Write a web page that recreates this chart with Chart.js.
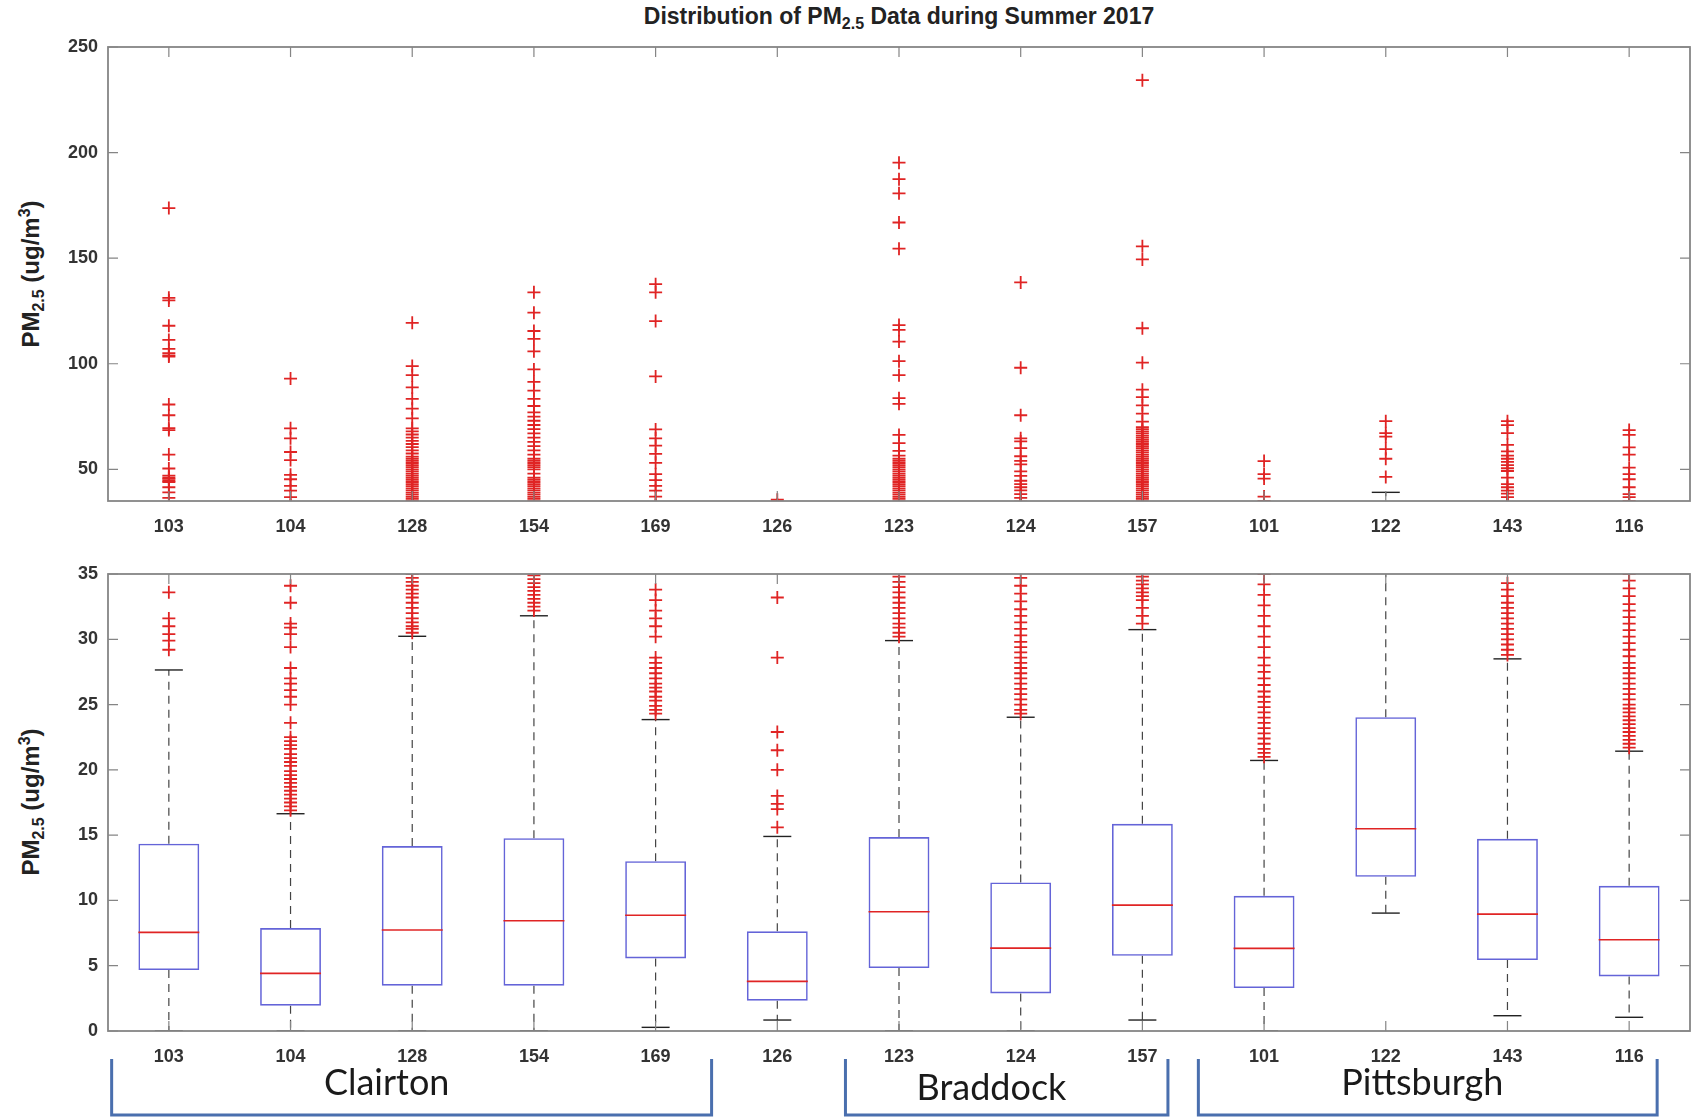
<!DOCTYPE html>
<html>
<head>
<meta charset="utf-8">
<script src="https://cdn.jsdelivr.net/npm/chart.js@4.4.0/dist/chart.umd.min.js"></script>
<style>
  body { margin: 0; background: #fff; width: 1698px; height: 1118px; position: relative; overflow: hidden;
         font-family: "Liberation Sans", Arial, sans-serif; }
  canvas { position: absolute; left: 0; }
  #topChart { top: 0; }
  #bottomChart { top: 545px; }
  .title { position: absolute; left: 899px; top: 18px; transform: translate(-50%, -50%);
           font-weight: bold; font-size: 23px; color: #222; white-space: nowrap; }
  .ylab { position: absolute; left: 32px; transform: translate(-50%, -50%) rotate(-90deg);
          font-weight: bold; font-size: 24px; color: #222; white-space: nowrap; }
  sub, sup { font-size: 16px; }
</style>
</head>
<body>
<div class="title">Distribution of PM<sub>2.5</sub> Data during Summer 2017</div>
<div class="ylab" style="top:274px">PM<sub>2.5</sub> (ug/m<sup>3</sup>)</div>
<div class="ylab" style="top:802px">PM<sub>2.5</sub> (ug/m<sup>3</sup>)</div>
<canvas id="topChart" width="1698" height="545"></canvas>
<canvas id="bottomChart" width="1698" height="573"></canvas>
<script>
// monitor ids, left to right
const stations = ["103", "104", "128", "154", "169", "126", "123", "124", "157", "101", "122", "143", "116"];

// box statistics (ug/m3)
const q1 = [4.67, 1.94, 3.47, 3.47, 5.56, 2.32, 4.82, 2.88, 5.76, 3.29, 11.81, 5.43, 4.18];
const median = [7.55, 4.41, 7.73, 8.44, 8.87, 3.8, 9.13, 6.35, 9.64, 6.33, 15.49, 8.95, 6.99];
const q3 = [14.34, 7.88, 14.16, 14.77, 13.0, 7.63, 14.85, 11.38, 15.87, 10.35, 24.03, 14.72, 11.12];
const whiskerLow = [0, 0, 0, 0, 0.28, 0.84, 0, 0, 0.84, 0, 9.03, 1.17, 1.05];
const whiskerHigh = [27.65, 16.64, 30.23, 31.8, 23.85, 14.9, 29.9, 24.03, 30.74, 20.72, 39.1, 28.5, 21.43];

// outliers per monitor
const out103 = [29.2, 29.9, 30.4, 31.0, 31.6, 33.6, 36.5, 39.1, 41.5, 44.0, 44.6, 45.5, 46.1, 47.0, 50.4, 57.0,
  68.6, 69.5, 75.6, 80.7, 103.4, 104.0, 105.0, 107.0, 111.3, 118.0, 130.0, 131.2, 173.7];
const out104 = [16.9, 17.2, 17.5, 17.8, 18.1, 18.4, 18.7, 19.0, 19.3, 19.6, 19.9, 20.3, 20.6, 20.9, 21.2, 21.6,
  21.9, 22.2, 22.5, 23.6, 25.0, 25.6, 26.1, 26.6, 27.0, 27.8, 29.4, 30.4, 30.9, 31.2, 32.8, 34.1,
  36.8, 39.9, 42.2, 45.3, 47.4, 54.4, 58.2, 64.7, 69.4, 93.0];
const out128 = [30.5, 30.8, 31.0, 31.3, 31.6, 32.0, 32.4, 32.8, 33.2, 33.5, 33.8, 34.1, 34.4, 34.7, 35.0,
  36, 37, 38, 39, 40, 41, 42, 43, 44, 45, 46, 47, 48, 49, 50, 51, 52, 53, 54, 55, 56, 57.5, 59, 60.5, 62,
  63.5, 65, 66.5, 68, 69.4, 74.1, 78.7, 83.4, 88.8, 94.6, 98.9, 119.4];
const out154 = [32.2, 32.5, 32.8, 33.1, 33.4, 33.7, 34.0, 34.3, 34.6, 34.9, 36, 37, 38, 39, 40, 41, 42, 43,
  44, 45, 46, 48, 50, 51, 52, 53, 54, 55, 57, 59, 61, 63, 65, 67, 69, 71, 73, 75, 77, 80, 83.4, 87.3, 91.4,
  97.3, 105.9, 111.8, 115.5, 124.2, 133.8];
const out169 = [24.3, 24.6, 24.9, 25.3, 25.6, 26.0, 26.3, 26.6, 27.0, 27.4, 27.8, 28.2, 28.6, 30.2, 31.0,
  31.6, 32.2, 33.0, 33.8, 37.1, 39.9, 42.2, 44.9, 47.7, 53.1, 57.3, 61.2, 64.7, 68.9, 94.0, 120.2, 133.8, 137.7];
const out126 = [15.6, 17.0, 17.4, 18.0, 20.0, 21.5, 22.9, 28.6, 33.2, 35.6];
const out123 = [30.2, 30.5, 30.9, 31.2, 31.6, 32.0, 32.4, 32.8, 33.2, 33.6, 34.0, 34.4, 34.8, 36, 37, 38, 39,
  40, 41, 42, 43, 44, 45, 46, 47, 48, 49, 50, 51, 52, 53, 54, 55, 56.5, 58.7, 62.4, 66.3, 81.0, 83.7, 94.6,
  101.2, 110.5, 116.0, 118.3, 154.5, 166.9, 180.7, 187.4, 195.2];
const out124 = [24.3, 24.6, 25.0, 25.4, 25.8, 26.2, 26.6, 27.0, 27.4, 27.8, 28.2, 28.6, 29.0, 29.4, 29.8, 30.3,
  30.8, 31.3, 31.8, 32.3, 32.9, 33.5, 34.1, 34.7, 36.5, 38.3, 40.0, 41.5, 43.0, 44.6, 46.9, 49.0, 52.3, 54.0,
  56.2, 60.0, 63.2, 64.7, 75.6, 98.1, 138.5];
const out157 = [31.2, 31.8, 32.4, 33.0, 33.3, 33.6, 33.9, 34.2, 34.5, 34.8, 36, 37, 38, 39, 40, 41, 42, 43, 44,
  45, 46, 47, 48, 49, 50, 51, 52, 53, 54, 55, 56, 57, 58, 59, 60, 61, 62, 63, 64, 65, 66, 67, 68, 69, 70,
  72.6, 76.4, 80.3, 84.2, 87.7, 100.5, 116.8, 149.4, 155.6, 234.3];
const out101 = [21.0, 21.3, 21.6, 22.0, 22.4, 22.8, 23.2, 23.6, 24.0, 24.4, 24.8, 25.2, 25.6, 26.0, 26.5, 27.0,
  27.5, 28.0, 28.6, 29.4, 30.2, 31.0, 31.8, 32.6, 33.4, 34.2, 35.0, 37.1, 45.6, 47.7, 53.9];
const out122 = [46.4, 55.0, 59.6, 65.5, 67.1, 72.8];
const out143 = [28.8, 29.2, 29.6, 30.0, 30.4, 30.8, 31.2, 31.6, 32.0, 32.4, 32.8, 33.3, 33.8, 34.3, 36.8, 38.5,
  39.9, 41.5, 43.0, 46.1, 49.2, 50.5, 52.0, 53.5, 55.0, 56.5, 58.5, 61.6, 67.1, 70.9, 72.8];
const out116 = [21.7, 22.0, 22.3, 22.6, 22.9, 23.2, 23.5, 23.8, 24.1, 24.4, 24.7, 25.0, 25.4, 25.8, 26.2, 26.6,
  27.0, 27.4, 27.8, 28.2, 28.7, 29.2, 29.7, 30.2, 30.7, 31.2, 31.7, 32.2, 32.7, 33.3, 33.9, 34.5, 35.0,
  36.8, 38.3, 41.5, 45.3, 47.7, 50.8, 57.0, 60.4, 66.3, 68.6];
const outliers = [out103, out104, out128, out154, out169, out126, out123, out124, out157, out101, out122, out143, out116];

const topTicks = [50, 100, 150, 200, 250];
const bottomTicks = [0, 5, 10, 15, 20, 25, 30, 35];

// site groups shown under the lower panel
const regions = ["Clairton", "Braddock", "Pittsburgh"];

const BOX = "#6464d8";
const RED = "#e02424";
const tickFont = { family: "'Liberation Sans Narrow', 'Liberation Sans', Arial", size: 18, weight: "bold" };

// dashed whiskers from box edges to caps
const whiskerPlugin = {
	id: "whiskers",
	beforeDatasetsDraw(chart) {
		const { ctx, chartArea, scales } = chart;
		ctx.save();
		ctx.beginPath();
		ctx.rect(chartArea.left, chartArea.top, chartArea.right - chartArea.left, chartArea.bottom - chartArea.top);
		ctx.clip();
		ctx.strokeStyle = "#444";
		ctx.lineWidth = 1.2;
		ctx.setLineDash([8, 6]);
		stations.forEach((s, i) => {
			const x = scales.x.getPixelForValue(i);
			ctx.beginPath();
			ctx.moveTo(x, scales.y.getPixelForValue(q3[i]));
			ctx.lineTo(x, scales.y.getPixelForValue(whiskerHigh[i]));
			ctx.moveTo(x, scales.y.getPixelForValue(q1[i]));
			ctx.lineTo(x, scales.y.getPixelForValue(whiskerLow[i]));
			ctx.stroke();
		});
		ctx.restore();
	},
};

// matlab style box with inward ticks
const framePlugin = {
	id: "frame",
	afterDraw(chart) {
		const { ctx, chartArea: a, scales } = chart;
		ctx.save();
		ctx.strokeStyle = "#858585";
		ctx.lineWidth = 1.8;
		ctx.strokeRect(a.left, a.top, a.right - a.left, a.bottom - a.top);
		ctx.lineWidth = 1.2;
		ctx.beginPath();
		scales.y.ticks.forEach((t) => {
			const y = scales.y.getPixelForValue(t.value);
			ctx.moveTo(a.left, y);
			ctx.lineTo(a.left + 10, y);
			ctx.moveTo(a.right, y);
			ctx.lineTo(a.right - 10, y);
		});
		stations.forEach((s, i) => {
			const x = scales.x.getPixelForValue(i);
			ctx.moveTo(x, a.top);
			ctx.lineTo(x, a.top + 10);
			ctx.moveTo(x, a.bottom);
			ctx.lineTo(x, a.bottom - 10);
		});
		ctx.stroke();
		ctx.restore();
	},
};

// brackets grouping the sites
const bracketPlugin = {
	id: "brackets",
	afterDraw(chart) {
		const { ctx, chartArea: a, scales } = chart;
		const spans = [[-0.47, 4.46], [5.56, 8.21], [8.46, 12.23]];
		const labelAt = [1.79, 6.76, 10.3];
		const labelDy = [52, 57, 52];
		const step = scales.x.getPixelForValue(1) - scales.x.getPixelForValue(0);
		const px = (v) => scales.x.getPixelForValue(0) + v * step;
		ctx.save();
		ctx.strokeStyle = "#4a6fae";
		ctx.lineWidth = 3;
		regions.forEach((name, i) => {
			const x0 = px(spans[i][0]);
			const x1 = px(spans[i][1]);
			ctx.beginPath();
			ctx.moveTo(x0, a.bottom + 28);
			ctx.lineTo(x0, a.bottom + 84);
			ctx.lineTo(x1, a.bottom + 84);
			ctx.lineTo(x1, a.bottom + 28);
			ctx.stroke();
			ctx.fillStyle = "#1a1a1a";
			ctx.font = "36px Lato, 'Open Sans', sans-serif";
			ctx.textAlign = "center";
			ctx.textBaseline = "middle";
			ctx.fillText(name, px(labelAt[i]), a.bottom + labelDy[i]);
		});
		ctx.restore();
	},
};

const makePanel = (canvasId, yMin, yMax, yTicks, padTop, xHeight, extraPlugins) => {
	const ctx = document.getElementById(canvasId).getContext("2d");
	const outlierPoints = outliers.flatMap((vals, i) => vals.map((v) => ({ x: stations[i], y: v })));

	return new Chart(ctx, {
		type: "bar",
		data: {
			labels: stations,
			datasets: [
				{
					type: "line",
					data: outlierPoints,
					showLine: false,
					pointStyle: "cross",
					pointRadius: 6.5,
					pointBorderColor: RED,
					pointBorderWidth: 1.8,
					clip: 0,
				},
				{
					type: "line",
					data: median,
					showLine: false,
					pointStyle: "line",
					pointRadius: 30.5,
					pointBorderColor: RED,
					pointBorderWidth: 1.6,
					clip: 0,
				},
				{
					type: "line",
					data: whiskerHigh,
					showLine: false,
					pointStyle: "line",
					pointRadius: 14,
					pointBorderColor: "#222",
					pointBorderWidth: 1.4,
					clip: 0,
				},
				{
					type: "line",
					data: whiskerLow,
					showLine: false,
					pointStyle: "line",
					pointRadius: 14,
					pointBorderColor: "#222",
					pointBorderWidth: 1.4,
					clip: 0,
				},
				{
					data: q1.map((v, i) => [v, q3[i]]),
					backgroundColor: "rgba(255,255,255,0)",
					borderColor: BOX,
					borderWidth: 1.6,
					borderSkipped: false,
					barPercentage: 0.5,
					categoryPercentage: 1,
					clip: 0,
				},
			],
		},
		options: {
			responsive: false,
			animation: false,
			events: [],
			layout: { autoPadding: false, padding: { top: padTop, right: 8, left: 0, bottom: 0 } },
			plugins: { legend: { display: false }, tooltip: { enabled: false }, title: { display: false } },
			scales: {
				x: {
					type: "category",
					offset: true,
					grid: { display: false, drawTicks: false },
					border: { display: false },
					ticks: { color: "#333", font: tickFont, padding: 15, maxRotation: 0, autoSkip: false },
					afterFit: (s) => {
						s.height = xHeight;
					},
				},
				y: {
					min: yMin,
					max: yMax,
					grid: { display: false, drawTicks: false },
					border: { display: false },
					ticks: { color: "#333", font: tickFont, padding: 10 },
					afterBuildTicks: (s) => {
						s.ticks = yTicks.map((v) => ({ value: v }));
					},
					afterFit: (s) => {
						s.width = 108;
					},
				},
			},
		},
		plugins: [whiskerPlugin, framePlugin, ...extraPlugins],
	});
};

makePanel("topChart", 35, 250, topTicks, 47, 44, []);
makePanel("bottomChart", 0, 35, bottomTicks, 29, 87, [bracketPlugin]);
</script>
</body>
</html>
